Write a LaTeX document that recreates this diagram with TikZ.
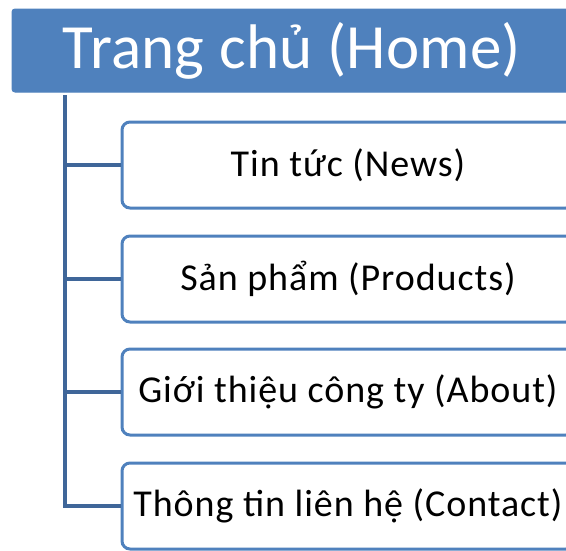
\documentclass[tikz,border=0pt]{standalone}
\usepackage{fontspec}
\setmainfont{Carlito}
\definecolor{accent}{HTML}{4F81BD}
\definecolor{linkc}{HTML}{3F6699}
\begin{document}
\begin{tikzpicture}[x=1pt,y=1pt,
  rootbox/.style={fill=accent,draw=accent,line width=1pt,rounded corners=3pt,minimum width=560pt,minimum height=83pt,inner sep=0pt,text=white,font=\fontsize{63}{70}\selectfont\addfontfeatures{LetterSpace=0.5}},
  childbox/.style={fill=white,draw=accent,line width=3pt,rounded corners=8pt,minimum width=452pt,minimum height=86pt,inner sep=0pt,text=black,font=\fontsize{38}{42}\selectfont\addfontfeatures{LetterSpace=2.5}},
  link/.style={draw=linkc,line width=4pt}]
\useasboundingbox (0,0) rectangle (566,-550);
\node[rootbox] (root) at (292,-50.5) {\raisebox{-2pt}{Trang chủ (Home)}};
\node[childbox] (c1) at (348,-165) {Tin tức (News)};
\node[childbox] (c2) at (348,-279) {Sản phẩm (Products)};
\node[childbox] (c3) at (348,-392) {Giới thiệu công ty (About)};
\node[childbox] (c4) at (348,-506) {Thông tin liên hệ (Contact)};
\coordinate (trunk) at (65,-95);
\draw[link] (trunk) |- (c1.west);
\draw[link] (trunk) |- (c2.west);
\draw[link] (trunk) |- (c3.west);
\draw[link] (trunk) |- (c4.west);
\end{tikzpicture}
\end{document}
